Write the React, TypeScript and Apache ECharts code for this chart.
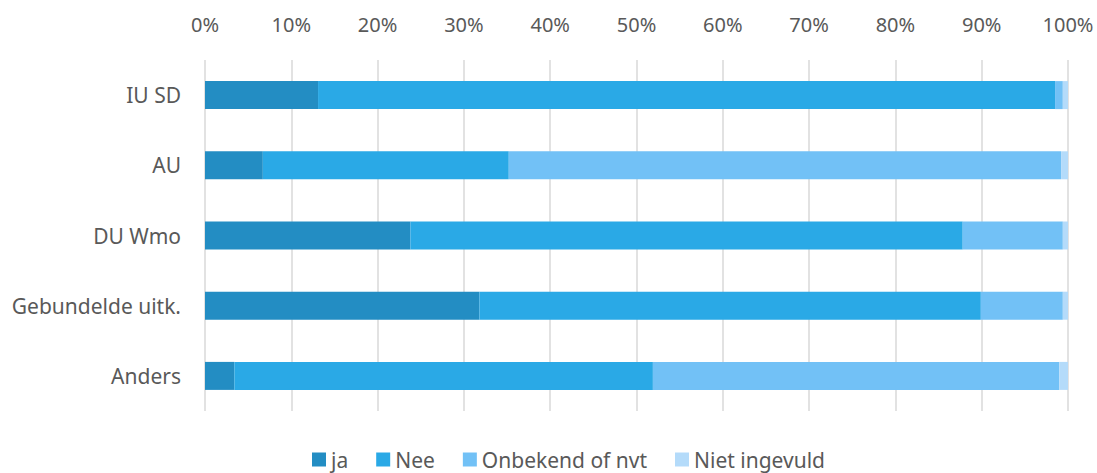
import React, { useEffect, useRef } from "react";
import * as echarts from "echarts";

const categories = ["IU SD", "AU", "DU Wmo", "Gebundelde uitk.", "Anders"];
const seriesNames = ["ja", "Nee", "Onbekend of nvt", "Niet ingevuld"];
const ja = [13.1, 6.7, 23.8, 31.8, 3.4];
const nee = [85.4, 28.5, 64.0, 58.1, 48.5];
const onbekend = [0.9, 64.0, 11.6, 9.5, 47.1];
const nietIngevuld = [0.6, 0.8, 0.6, 0.6, 1.0];
const colors = ["#238DC3", "#2AA9E6", "#72C1F6", "#B4DBFA"];
const tickValues = [0, 10, 20, 30, 40, 50, 60, 70, 80, 90, 100];

export default function App() {
  const ref = useRef<HTMLDivElement>(null);
  useEffect(() => {
    const chart = echarts.init(ref.current!, null, { renderer: "svg" });
    const data = [ja, nee, onbekend, nietIngevuld];
    const font = "'Noto Sans', sans-serif";
    chart.setOption({
      animation: false,
      color: colors,
      textStyle: { fontFamily: font },
      grid: { left: 205, right: 29, top: 60, bottom: 62 },
      legend: {
        bottom: -2,
        left: 307,
        itemWidth: 14,
        itemHeight: 14,
        itemGap: 28,
        icon: "rect",
        textStyle: { fontSize: 21, color: "#595959", fontFamily: font },
        data: seriesNames,
      },
      xAxis: {
        type: "value",
        position: "top",
        min: tickValues[0],
        max: tickValues[tickValues.length - 1],
        interval: 10,
        axisLabel: { formatter: "{value}%", fontSize: 20, color: "#595959", margin: 26 },
        axisLine: { show: false },
        axisTick: { show: false },
        splitLine: { lineStyle: { color: "#D9D9D9", width: 1.5 } },
      },
      yAxis: {
        type: "category",
        inverse: true,
        data: categories,
        axisLabel: { fontSize: 21, color: "#595959", margin: 24 },
        axisLine: { show: false },
        axisTick: { show: false },
      },
      series: seriesNames.map((name, i) => ({
        name,
        type: "bar",
        stack: "total",
        barWidth: 28,
        data: data[i],
      })),
    });
    return () => chart.dispose();
  }, []);
  return (
    <div
      ref={ref}
      style={{ position: "absolute", left: 0, top: 0, width: 1097, height: 473, background: "#fff" }}
    />
  );
}
